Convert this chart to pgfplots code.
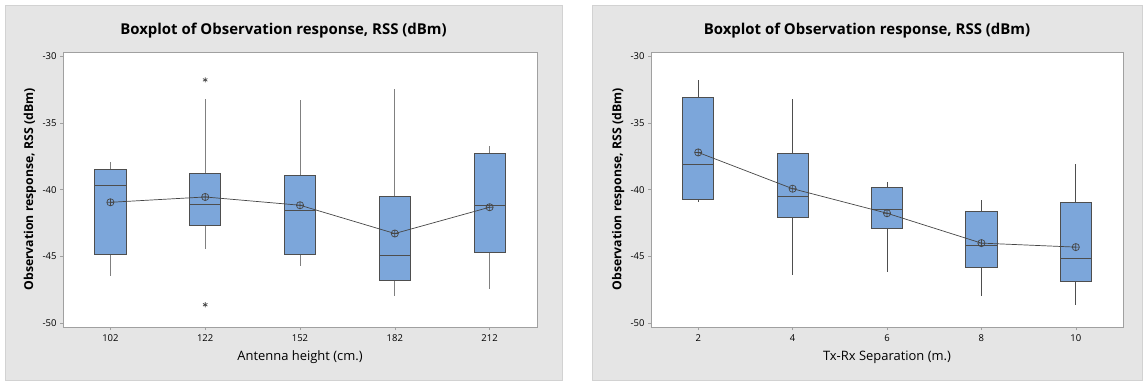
\documentclass[border=0pt]{standalone}
\usepackage{fontspec}
\setmainfont{Open Sans}
\usepackage{pgfplots}
\pgfplotsset{compat=1.18}
\usepgfplotslibrary{statistics}

\definecolor{panelgrey}{RGB}{229,229,229}
\definecolor{panelborder}{RGB}{210,210,210}
\definecolor{framegrey}{RGB}{160,160,160}
\definecolor{boxfill}{RGB}{124,166,218}
\definecolor{boxedge}{RGB}{78,78,78}
\definecolor{meangrey}{RGB}{70,70,70}

\pgfplotsset{
  rssbox/.style={
    scale only axis,
    anchor=south west,
    height=275bp,
    xmin=0.5, xmax=5.5,
    ymin=-50.3, ymax=-29.68,
    xtick={1,2,3,4,5},
    ytick={-50,-45,-40,-35,-30},
    yticklabels={-50,-45,-40,-35,-30},
    tick align=outside,
    xtick pos=bottom, ytick pos=left,
    major tick length=3bp,
    tick style={draw=framegrey, line width=0.6bp},
    axis line style={draw=framegrey, line width=0.8bp},
    tick label style={font=\fontsize{9.5}{11}\selectfont},
    xticklabel style={yshift=-1bp},
    xlabel style={font=\fontsize{13}{15}\selectfont, at={(axis description cs:0.5,-0.109)}, anchor=center},
    ylabel style={font=\fontsize{12.3}{14}\selectfont\bfseries, at={(axis description cs:-0.0696,0.5)}, anchor=center},
    axis background/.style={fill=white},
    boxplot/draw direction=y,
    boxplot/box extend=0.33,
    boxplot/whisker extend=0,
    boxplot/every box/.style={draw=boxedge, fill=boxfill, line width=0.8bp},
    boxplot/every median/.style={draw=boxedge, line width=0.8bp},
  },
  meanline/.style={color=meangrey, line width=0.7bp, mark=oplus, mark size=3.6bp,
    mark options={solid, fill opacity=0, line width=0.7bp}},
}

\begin{document}
\begin{tikzpicture}
\path[use as bounding box] (0bp,0bp) rectangle (1143bp,381bp);
\fill[panelgrey, draw=panelborder, line width=0.8bp] (5bp,1bp) rectangle (562bp,376bp);
\fill[panelgrey, draw=panelborder, line width=0.8bp] (592bp,1bp) rectangle (1142bp,376bp);

\node[font=\fontsize{15}{17}\selectfont\bfseries] at (283.5bp,350bp) {Boxplot of Observation response, RSS (dBm)};
\node[font=\fontsize{15}{17}\selectfont\bfseries] at (867bp,350bp) {Boxplot of Observation response, RSS (dBm)};

% RSS against antenna height
\begin{axis}[rssbox, at={(63bp,54bp)}, width=474bp,
  xticklabels={102,122,152,182,212},
  xlabel={Antenna height (cm.)},
  ylabel={Observation response, RSS (dBm)},
  boxplot/every whisker/.style={draw=gray, line width=0.8bp},
]
\addplot[boxplot prepared={draw position=1, lower whisker=-46.51, lower quartile=-44.84,
  median=-39.70, upper quartile=-38.48, upper whisker=-37.96}] coordinates {};
\addplot[boxplot prepared={draw position=2, lower whisker=-44.46, lower quartile=-42.69,
  median=-41.10, upper quartile=-38.80, upper whisker=-33.24},
  mark=asterisk, mark size=2.6bp, mark options={draw=meangrey, line width=0.7bp}]
  table[row sep=\\, y index=0] {data\\ -31.77\\ -48.63\\};
\addplot[boxplot prepared={draw position=3, lower whisker=-45.71, lower quartile=-44.84,
  median=-41.52, upper quartile=-38.95, upper whisker=-33.29}] coordinates {};
\addplot[boxplot prepared={draw position=4, lower whisker=-47.96, lower quartile=-46.81,
  median=-44.91, upper quartile=-40.52, upper whisker=-32.49}] coordinates {};
\addplot[boxplot prepared={draw position=5, lower whisker=-47.46, lower quartile=-44.69,
  median=-41.15, upper quartile=-37.28, upper whisker=-36.73}] coordinates {};
% means
\addplot[meanline] coordinates {(1,-40.95) (2,-40.55) (3,-41.17) (4,-43.29) (5,-41.32)};
\end{axis}

% RSS against Tx-Rx separation
\begin{axis}[rssbox, at={(651bp,54bp)}, width=472bp,
  xticklabels={2,4,6,8,10},
  xlabel={Tx-Rx Separation (m.)},
  ylabel={Observation response, RSS (dBm)},
  boxplot/every whisker/.style={draw=boxedge, line width=0.8bp},
]
\addplot[boxplot prepared={draw position=1, lower whisker=-40.95, lower quartile=-40.72,
  median=-38.10, upper quartile=-33.12, upper whisker=-31.75}] coordinates {};
\addplot[boxplot prepared={draw position=2, lower whisker=-46.38, lower quartile=-42.05,
  median=-40.52, upper quartile=-37.28, upper whisker=-33.22}] coordinates {};
\addplot[boxplot prepared={draw position=3, lower whisker=-46.21, lower quartile=-42.92,
  median=-41.50, upper quartile=-39.85, upper whisker=-39.40}] coordinates {};
\addplot[boxplot prepared={draw position=4, lower whisker=-48.00, lower quartile=-45.84,
  median=-44.16, upper quartile=-41.60, upper whisker=-40.77}] coordinates {};
\addplot[boxplot prepared={draw position=5, lower whisker=-48.63, lower quartile=-46.88,
  median=-45.19, upper quartile=-40.92, upper whisker=-38.08}] coordinates {};
% means
\addplot[meanline] coordinates {(1,-37.21) (2,-39.93) (3,-41.77) (4,-44.01) (5,-44.31)};
\end{axis}
\end{tikzpicture}
\end{document}
